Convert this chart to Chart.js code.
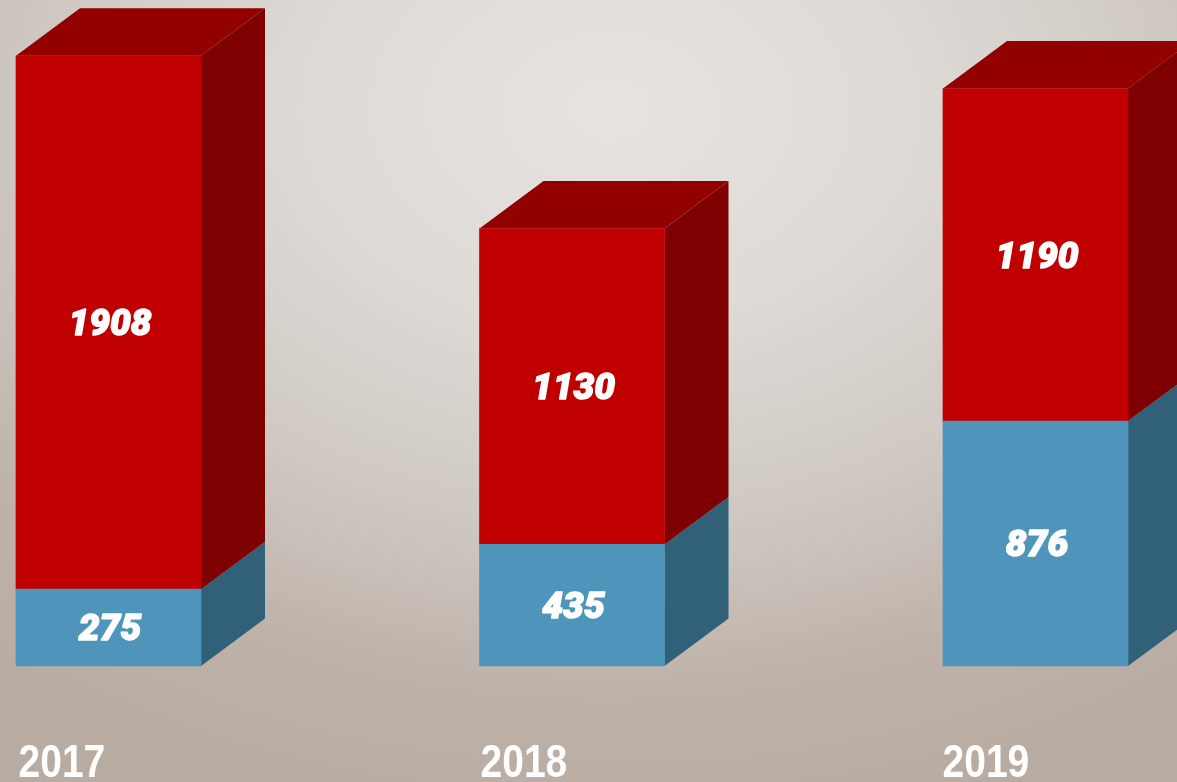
<!DOCTYPE html>
<html>
<head>
<meta charset="utf-8">
<title>Chart</title>
<script src="https://cdn.jsdelivr.net/npm/chart.js@4"></script>
<style>
  html, body { margin: 0; padding: 0; width: 1177px; height: 782px; overflow: hidden; }
  body { background: radial-gradient(ellipse 1000px 720px at 610px 110px, #e6e3e0 0%, #dedad6 30%, #cfc8c2 58%, #bdb1a8 82%, #b8aca2 100%); }
  canvas { display: block; }
</style>
</head>
<body>
<canvas id="chart" width="1177" height="782"></canvas>
<script>
const years = ["2017", "2018", "2019"];
const blueValues = [275, 435, 876];
const redValues = [1908, 1130, 1190];

// depth of the fake 3d box
const depthX = 64;
const depthY = 47.5;

const faces = [
  { side: "#316178", top: "#3f7a99" },
  { side: "#7f0000", top: "#920000" }
];

function quad(ctx, pts, color) {
  ctx.fillStyle = color;
  ctx.beginPath();
  ctx.moveTo(pts[0][0], pts[0][1]);
  for (let i = 1; i < pts.length; i++) ctx.lineTo(pts[i][0], pts[i][1]);
  ctx.closePath();
  ctx.fill();
}

const boxPlugin = {
  id: "box",
  beforeDatasetsDraw(chart) {
    const ctx = chart.ctx;
    chart.data.datasets.forEach((ds, d) => {
      chart.getDatasetMeta(d).data.forEach(bar => {
        const right = bar.x + bar.width / 2;
        const left = bar.x - bar.width / 2;
        quad(ctx, [[right, bar.y], [right + depthX, bar.y - depthY], [right + depthX, bar.base - depthY], [right, bar.base]], faces[d].side);
        if (d === chart.data.datasets.length - 1) {
          quad(ctx, [[left, bar.y], [left + depthX, bar.y - depthY], [right + depthX, bar.y - depthY], [right, bar.y]], faces[d].top);
        }
      });
    });
  },
  afterDatasetsDraw(chart) {
    const ctx = chart.ctx;
    ctx.save();
    ctx.fillStyle = "#ffffff";
    ctx.strokeStyle = "#ffffff";
    ctx.lineWidth = 1.4;
    ctx.lineJoin = "round";
    ctx.font = "italic 900 37px Roboto";
    ctx.textAlign = "center";
    ctx.textBaseline = "middle";
    chart.data.datasets.forEach((ds, d) => {
      chart.getDatasetMeta(d).data.forEach((bar, i) => {
        const y = (bar.y + bar.base) / 2 + 3.5;
        ctx.fillText(ds.data[i], bar.x + 1.5, y);
        ctx.strokeText(ds.data[i], bar.x + 1.5, y);
      });
    });
    // year labels, squeezed because there is no narrow font here
    const xScale = chart.scales.x;
    ctx.font = "bold 47px 'Liberation Sans'";
    ctx.textAlign = "left";
    ctx.textBaseline = "alphabetic";
    years.forEach((year, i) => {
      ctx.save();
      ctx.translate(xScale.getPixelForTick(i) - 90 - i * 1.5, 777);
      ctx.scale(0.83, 1);
      ctx.fillText(year, 0, 0);
      ctx.restore();
    });
    ctx.restore();
  }
};

new Chart(document.getElementById("chart"), {
  type: "bar",
  data: {
    labels: years,
    datasets: [
      { label: "A", data: blueValues, backgroundColor: "#4f94ba", clip: false },
      { label: "B", data: redValues, backgroundColor: "#c00000", clip: false }
    ]
  },
  options: {
    responsive: false,
    animation: false,
    barThickness: 185,
    layout: { padding: { left: 108.5, right: 141.5, top: 51, bottom: 108 } },
    plugins: { legend: { display: false }, tooltip: { enabled: false } },
    scales: {
      x: {
        stacked: true,
        offset: false,
        grid: { display: false },
        border: { display: false },
        ticks: { display: false }
      },
      y: {
        stacked: true,
        display: false,
        min: 0,
        max: 2200
      }
    }
  },
  plugins: [boxPlugin]
});
</script>
</body>
</html>
